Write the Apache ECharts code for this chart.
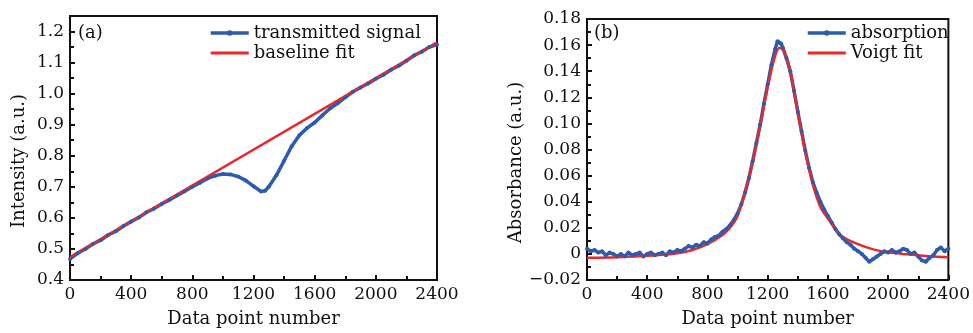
<!DOCTYPE html>
<html>
<head>
<meta charset="utf-8">
<script src="https://cdn.jsdelivr.net/npm/echarts@6/dist/echarts.min.js"></script>
<style>
  html, body { margin: 0; padding: 0; background: #fff; }
  #chart { width: 973px; height: 333px; }
</style>
</head>
<body>
<div id="chart"></div>
<script>
// (a) transmitted signal + baseline fit
const transX = [0, 50, 100, 150, 200, 250, 300, 350, 400, 450, 500, 550, 600, 650, 700, 750, 800, 850, 900, 950,
  1000, 1050, 1100, 1150, 1200, 1250, 1275, 1300, 1350, 1400, 1450, 1500, 1550, 1600, 1650, 1700, 1750, 1800,
  1850, 1900, 1950, 2000, 2050, 2100, 2150, 2200, 2250, 2300, 2350, 2400];
const transY = [0.468, 0.486, 0.500, 0.516, 0.528, 0.545, 0.557, 0.574, 0.588, 0.601, 0.618, 0.630, 0.645, 0.658,
  0.672, 0.686, 0.700, 0.713, 0.727, 0.736, 0.741, 0.740, 0.733, 0.720, 0.702, 0.685, 0.687, 0.700, 0.737, 0.784,
  0.831, 0.866, 0.889, 0.907, 0.930, 0.952, 0.969, 0.988, 1.006, 1.020, 1.033, 1.048, 1.061, 1.077, 1.090, 1.106,
  1.123, 1.135, 1.150, 1.158];
const baseX = [0, 2400];
const baseY = [0.474, 1.165];

// (b) absorption + Voigt fit
const absX = [0, 25, 50, 75, 100, 125, 150, 175, 200, 225, 250, 275, 300, 325, 350, 375, 400, 425, 450, 475,
  500, 525, 550, 575, 600, 625, 650, 675, 700, 725, 750, 775, 800, 825, 850, 875, 900, 925, 950, 975,
  1000, 1025, 1050, 1075, 1100, 1125, 1150, 1175, 1200, 1225, 1250, 1265, 1275, 1290, 1300, 1325, 1350, 1375,
  1400, 1425, 1450, 1475, 1500, 1525, 1550, 1575, 1600, 1625, 1650, 1675, 1700, 1725, 1750, 1775, 1800, 1825,
  1850, 1875, 1900, 1925, 1950, 1975, 2000, 2025, 2050, 2075, 2100, 2125, 2150, 2175, 2200, 2225, 2250, 2275,
  2300, 2325, 2350, 2375, 2400];
const absY = [0.004, 0.002, 0.003, 0.001, 0.002, -0.001, 0.001, 0.000, -0.002, 0.000, -0.002, 0.001, -0.001, 0.000,
  0.001, -0.002, 0.000, 0.001, -0.001, 0.000, 0.001, -0.001, 0.002, 0.001, 0.003, 0.002, 0.004, 0.006, 0.005,
  0.007, 0.006, 0.009, 0.008, 0.011, 0.013, 0.014, 0.017, 0.019, 0.022, 0.026, 0.031, 0.038, 0.047, 0.058, 0.071,
  0.085, 0.099, 0.115, 0.130, 0.145, 0.157, 0.163, 0.162, 0.161, 0.158, 0.150, 0.140, 0.125, 0.109, 0.094, 0.079,
  0.066, 0.055, 0.047, 0.040, 0.034, 0.029, 0.024, 0.019, 0.015, 0.012, 0.009, 0.007, 0.004, 0.002, 0.000, -0.003,
  -0.006, -0.004, -0.002, 0.000, 0.002, 0.001, 0.003, 0.001, 0.002, 0.004, 0.003, 0.000, 0.001, -0.002, -0.005,
  -0.006, -0.003, -0.001, 0.003, 0.005, 0.002, 0.004];
const fitX = [0, 200, 400, 600, 700, 800, 900, 950, 1000, 1050, 1100, 1150, 1200, 1250, 1280, 1310, 1350, 1400,
  1450, 1500, 1550, 1600, 1650, 1700, 1800, 1900, 2000, 2100, 2200, 2300, 2400];
const fitY = [-0.003, -0.0025, -0.0015, 0.0005, 0.003, 0.0075, 0.0145, 0.020, 0.029, 0.048, 0.070, 0.098, 0.128,
  0.152, 0.158, 0.155, 0.140, 0.108, 0.078, 0.053, 0.036, 0.027, 0.019, 0.013, 0.0075, 0.0035, 0.0012, 0.0,
  -0.001, -0.002, -0.0025];

const xTicks = [0, 400, 2400]; // min, interval, max
const font = 'DejaVu Serif';
const blue = '#2d5bb0';
const red = '#e8282b';

const zip = (xs, ys) => xs.map((x, i) => [x, ys[i]]);

function xAxisFor(gridIndex) {
    return {
        type: 'value', gridIndex: gridIndex,
        min: xTicks[0], max: xTicks[2], interval: xTicks[1],
        name: 'Data point number', nameLocation: 'middle', nameGap: 30,
        nameTextStyle: { fontFamily: font, fontSize: 18, color: '#111' },
        axisLine: { onZero: false, lineStyle: { color: '#111', width: 2 } },
        axisTick: { inside: true, length: 5, lineStyle: { color: '#111', width: 2 } },
        minorTick: { show: true, splitNumber: 2, length: 4, lineStyle: { color: '#111', width: 2 } },
        axisLabel: { fontFamily: font, fontSize: 17, color: '#111', margin: 6, formatter: v => String(v) },
        splitLine: { show: false }
    };
}

function yAxisFor(gridIndex, opts) {
    return Object.assign({
        type: 'value', gridIndex: gridIndex,
        nameLocation: 'middle',
        nameTextStyle: { fontFamily: font, fontSize: 18, color: '#111', padding: [0, 26, 0, 0] },
        axisLine: { onZero: false, lineStyle: { color: '#111', width: 2 } },
        axisTick: { inside: true, length: 5, lineStyle: { color: '#111', width: 2 } },
        minorTick: { show: true, splitNumber: 2, length: 4, lineStyle: { color: '#111', width: 2 } },
        splitLine: { show: false }
    }, opts);
}

function legendFor(left, names) {
    return {
        left: left, top: 24, padding: 0, orient: 'vertical', itemWidth: 38, itemHeight: 7, itemGap: 2,
        textStyle: { fontFamily: font, fontSize: 18, color: '#111' },
        data: [
            { name: names[0], lineStyle: { width: 3.5 } },
            { name: names[1], itemStyle: { opacity: 0 }, lineStyle: { width: 3 } }
        ]
    };
}

const chart = echarts.init(document.getElementById('chart'));
const option = {
    animation: false,
    backgroundColor: '#fff',
    grid: [
        { left: 70, top: 16, width: 367, height: 272, show: true, borderColor: '#111', borderWidth: 2 },
        { left: 587, top: 19, width: 365, height: 270, show: true, borderColor: '#111', borderWidth: 2 }
    ],
    xAxis: [xAxisFor(0), xAxisFor(1)],
    yAxis: [
        yAxisFor(0, {
            min: 0.4, max: 1.25, interval: 0.1,
            name: 'Intensity (a.u.)', nameGap: 42,
            axisLabel: { fontFamily: font, fontSize: 17, color: '#111', margin: 6, showMaxLabel: false,
                formatter: v => v.toFixed(1) }
        }),
        yAxisFor(1, {
            min: -0.02, max: 0.18, interval: 0.02,
            name: 'Absorbance (a.u.)', nameGap: 54,
            axisLabel: { fontFamily: font, fontSize: 17, color: '#111', margin: 6,
                formatter: v => Math.abs(v) < 1e-9 ? '0' : (v < 0 ? '\u2212' + Math.abs(v).toFixed(2) : v.toFixed(2)) }
        })
    ],
    legend: [
        legendFor(209, ['transmitted signal', 'baseline fit']),
        legendFor(806, ['absorption', 'Voigt fit'])
    ],
    graphic: [
        { type: 'text', left: 78, top: 24, style: { text: '(a)', font: '18px "DejaVu Serif"', fill: '#111' } },
        { type: 'text', left: 594, top: 24, style: { text: '(b)', font: '18px "DejaVu Serif"', fill: '#111' } }
    ],
    series: [
        {
            name: 'transmitted signal', type: 'line', xAxisIndex: 0, yAxisIndex: 0,
            data: zip(transX, transY), symbol: 'circle', symbolSize: 4, showAllSymbol: true,
            itemStyle: { color: blue }, lineStyle: { color: blue, width: 3.5 }
        },
        {
            name: 'baseline fit', type: 'line', xAxisIndex: 0, yAxisIndex: 0,
            data: zip(baseX, baseY), symbol: 'none',
            itemStyle: { color: red }, lineStyle: { color: red, width: 2.5 }
        },
        {
            name: 'absorption', type: 'line', xAxisIndex: 1, yAxisIndex: 1,
            data: zip(absX, absY), symbol: 'circle', symbolSize: 4, showAllSymbol: true,
            itemStyle: { color: blue }, lineStyle: { color: blue, width: 3.5 }
        },
        {
            name: 'Voigt fit', type: 'line', xAxisIndex: 1, yAxisIndex: 1,
            data: zip(fitX, fitY), symbol: 'none', smooth: 0.3,
            itemStyle: { color: red }, lineStyle: { color: red, width: 2.5 }
        }
    ]
};
chart.setOption(option);
</script>
</body>
</html>
